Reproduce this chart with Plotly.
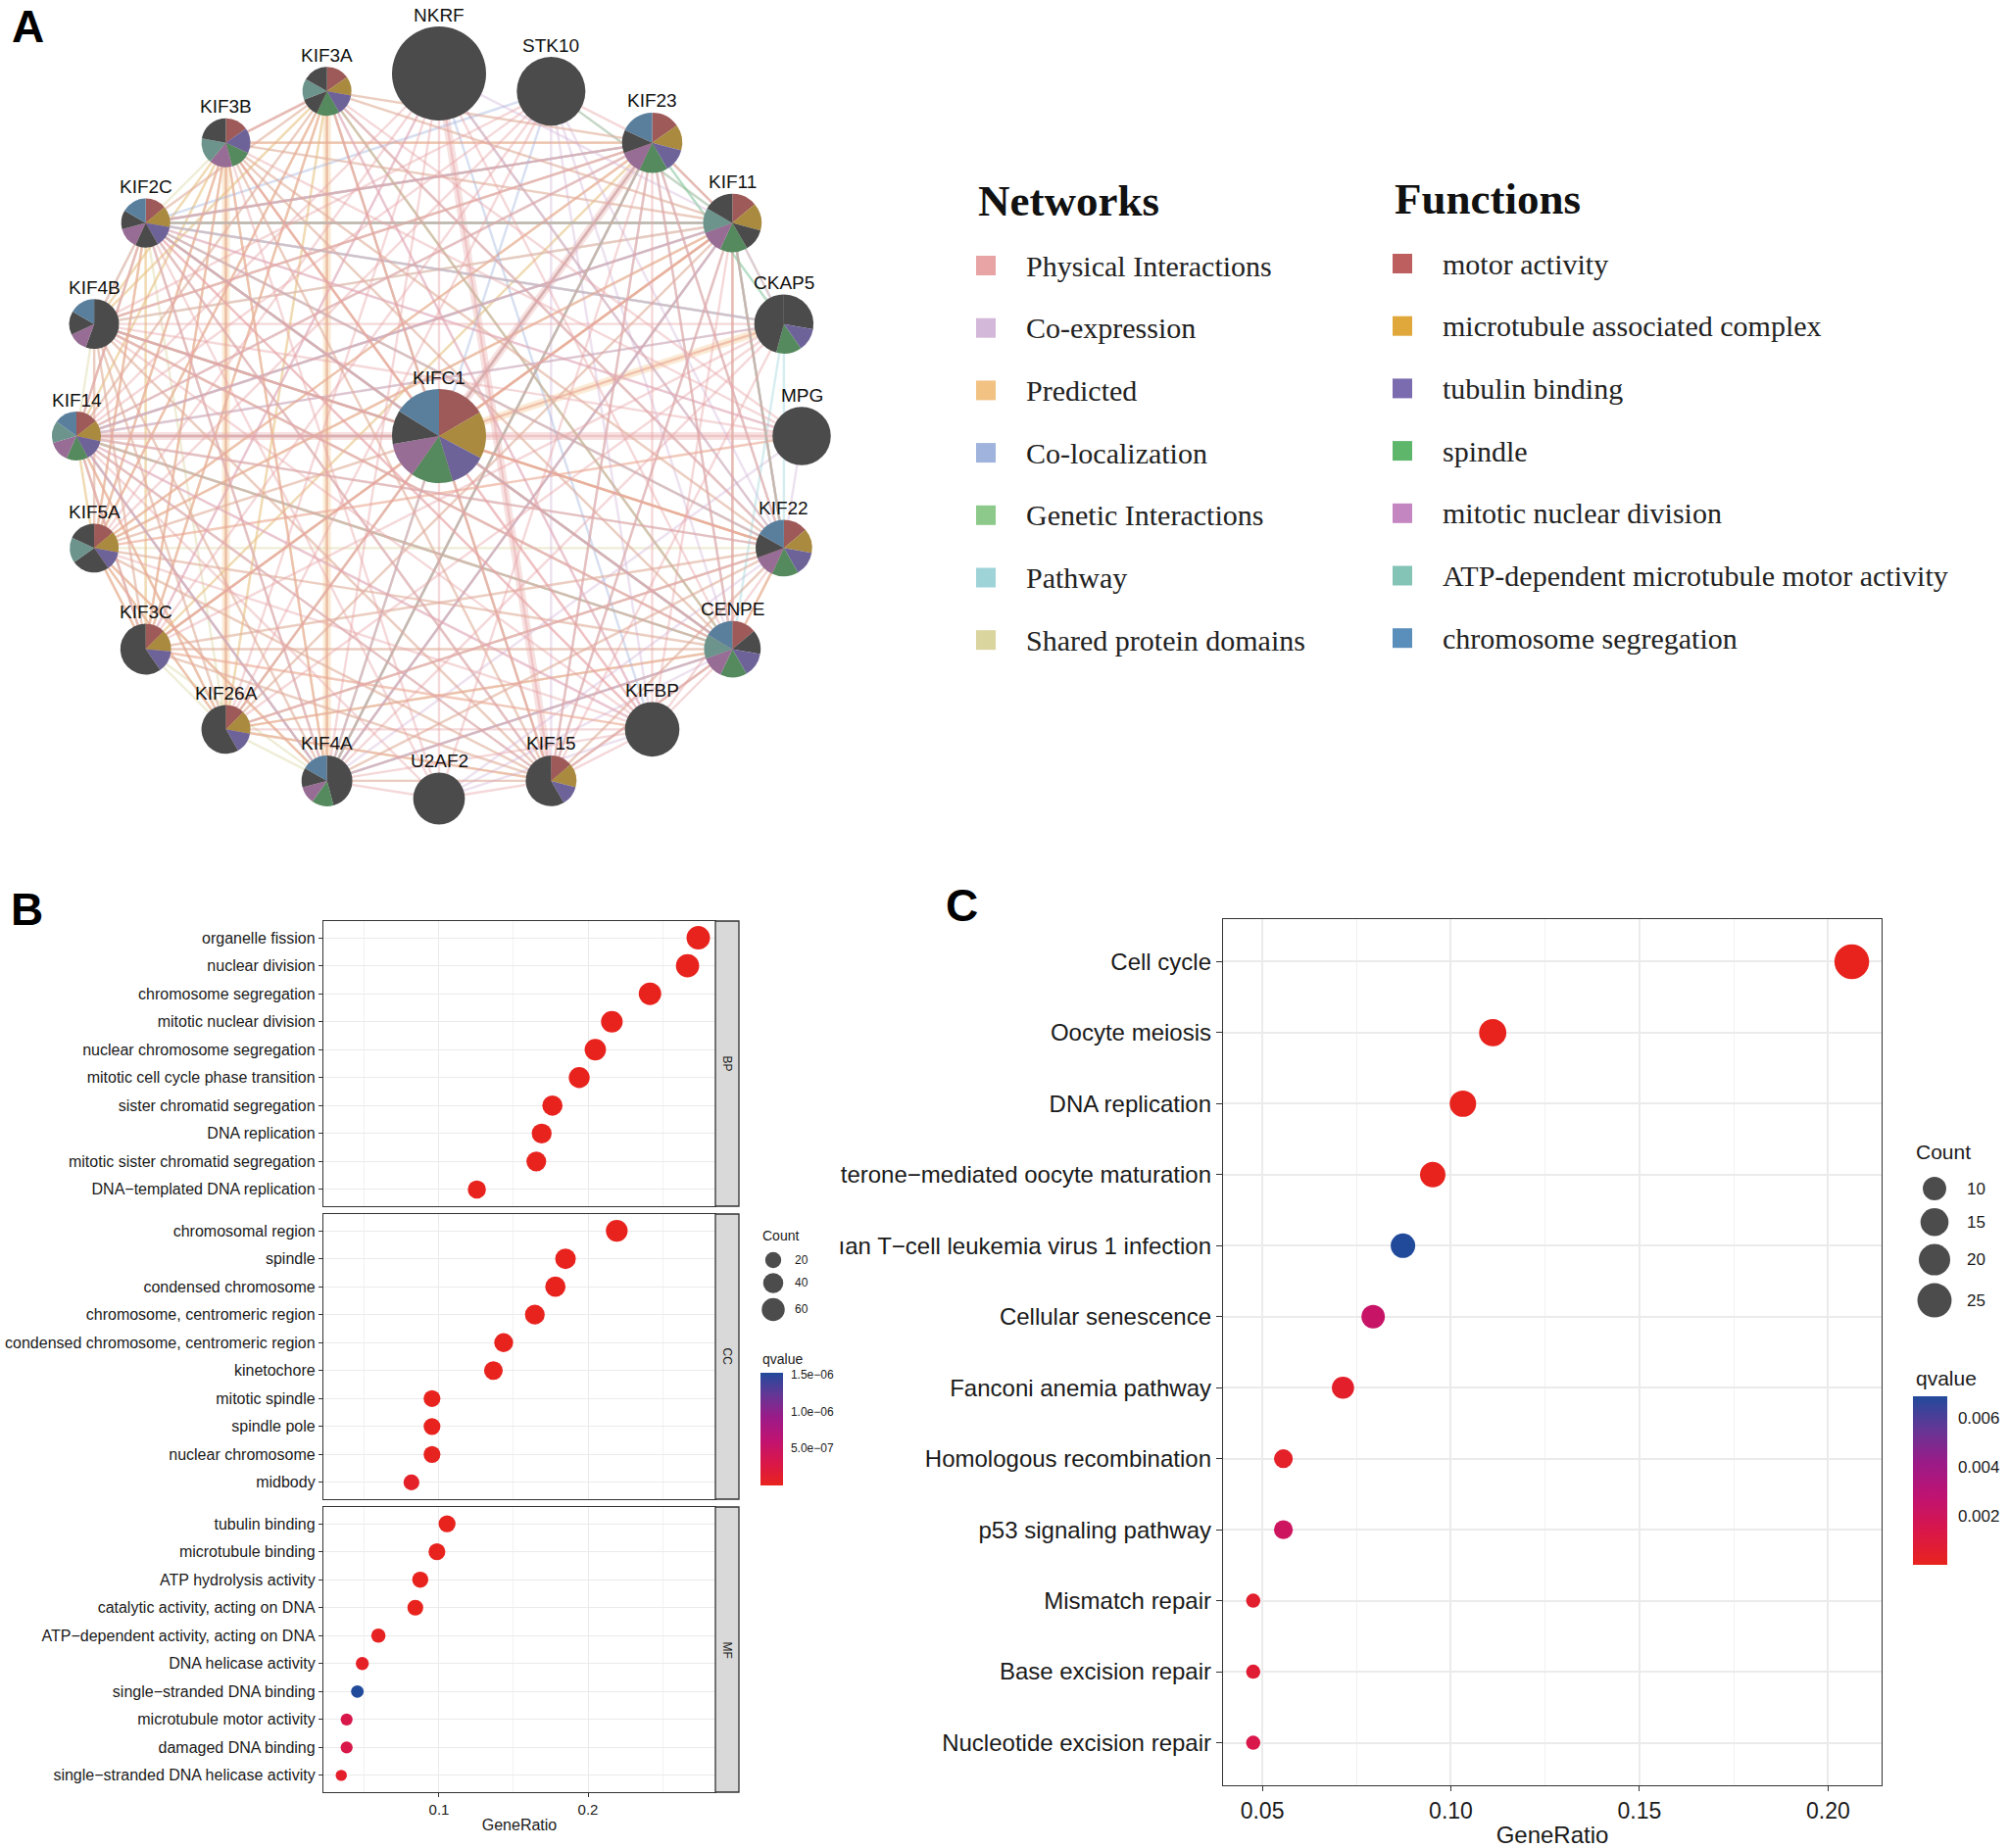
import math
import plotly.graph_objects as go

# ======================= DATA =======================
# ---- Panel A : GeneMANIA network ----
HUB_GENE = "KIFC1"
RING_GENES = ["NKRF", "STK10", "KIF23", "KIF11", "CKAP5", "MPG", "KIF22", "CENPE", "KIFBP", "KIF15",
              "U2AF2", "KIF4A", "KIF26A", "KIF3C", "KIF5A", "KIF14", "KIF4B", "KIF2C", "KIF3B", "KIF3A"]
NODE_WEIGHT = {"KIFC1": 1.00, "NKRF": 1.00, "STK10": 0.73, "KIF23": 0.64, "KIF11": 0.62, "CKAP5": 0.63,
               "MPG": 0.62, "KIF22": 0.60, "CENPE": 0.60, "KIFBP": 0.58, "KIF15": 0.54, "U2AF2": 0.55,
               "KIF4A": 0.54, "KIF26A": 0.52, "KIF3C": 0.54, "KIF5A": 0.52, "KIF14": 0.52, "KIF4B": 0.53,
               "KIF2C": 0.52, "KIF3B": 0.52, "KIF3A": 0.52}

NETWORK_TYPES = ["Physical Interactions", "Co-expression", "Predicted", "Co-localization",
                 "Genetic Interactions", "Pathway", "Shared protein domains"]
FUNCTIONS = ["motor activity", "microtubule associated complex", "tubulin binding", "spindle",
             "mitotic nuclear division", "ATP-dependent microtubule motor activity", "chromosome segregation"]
FUNC_CODES = ["MOT", "MTC", "TUB", "SPI", "MIT", "ATP", "CHR"]

# pie slices clockwise from 12 o'clock: (function code, angular share); "-" = no annotated function
NODE_FUNCTIONS = {
    "KIFC1": [("MOT", 60), ("MTC", 58), ("TUB", 45), ("SPI", 52), ("MIT", 45), ("-", 42), ("CHR", 58)],
    "KIF23": [("MOT", 55), ("MTC", 50), ("TUB", 45), ("SPI", 55), ("MIT", 45), ("-", 45), ("CHR", 65)],
    "KIF11": [("MOT", 50), ("MTC", 55), ("-", 45), ("SPI", 55), ("MIT", 45), ("ATP", 50), ("-", 60)],
    "CKAP5": [("-", 100), ("TUB", 45), ("SPI", 50), ("-", 165)],
    "KIF22": [("MOT", 50), ("MTC", 50), ("TUB", 50), ("SPI", 55), ("MIT", 45), ("-", 50), ("CHR", 60)],
    "CENPE": [("MOT", 50), ("-", 50), ("TUB", 50), ("SPI", 55), ("MIT", 45), ("ATP", 50), ("CHR", 60)],
    "KIF15": [("MOT", 50), ("MTC", 55), ("TUB", 45), ("-", 210)],
    "KIF4A": [("-", 165), ("SPI", 50), ("MIT", 40), ("-", 45), ("CHR", 60)],
    "KIF26A": [("MOT", 45), ("MTC", 55), ("TUB", 50), ("-", 210)],
    "KIF3C": [("MOT", 45), ("MTC", 50), ("TUB", 50), ("-", 215)],
    "KIF5A": [("MOT", 50), ("MTC", 50), ("TUB", 45), ("-", 90), ("ATP", 60), ("-", 65)],
    "KIF14": [("MOT", 52), ("MTC", 50), ("TUB", 50), ("SPI", 52), ("MIT", 50), ("ATP", 52), ("CHR", 54)],
    "KIF4B": [("-", 200), ("MIT", 45), ("-", 55), ("CHR", 60)],
    "KIF2C": [("MOT", 50), ("MTC", 50), ("TUB", 50), ("-", 55), ("MIT", 50), ("-", 45), ("CHR", 60)],
    "KIF3B": [("MOT", 55), ("TUB", 60), ("SPI", 50), ("MIT", 55), ("ATP", 60), ("-", 80)],
    "KIF3A": [("MOT", 55), ("MTC", 45), ("TUB", 50), ("SPI", 55), ("-", 45), ("ATP", 50), ("-", 60)],
}

EDGES = {
    "Shared protein domains": {
        "KIFC1": "KIF3A KIF3B KIF2C KIF4B KIF14 KIF5A KIF3C KIF26A KIF4A KIF15 CENPE KIF22 KIF11 KIF23",
        "KIF3A": "KIF3B KIF2C KIF4B KIF14 KIF5A KIF3C KIF26A KIF4A KIF15 CENPE KIF22 KIF11 KIF23",
        "KIF3B": "KIF2C KIF4B KIF14 KIF5A KIF3C KIF26A KIF4A KIF15 CENPE KIF22 KIF11 KIF23",
        "KIF2C": "KIF4B KIF14 KIF5A KIF3C KIF26A KIF4A KIF15 CENPE KIF22 KIF11 KIF23",
        "KIF4B": "KIF14 KIF5A KIF3C KIF26A KIF4A KIF15 CENPE KIF22 KIF11 KIF23",
        "KIF14": "KIF5A KIF3C KIF26A KIF4A KIF15 CENPE KIF22 KIF11 KIF23",
        "KIF5A": "KIF3C KIF26A KIF4A KIF15 CENPE KIF22 KIF11 KIF23",
        "KIF3C": "KIF26A KIF4A KIF15 CENPE KIF22 KIF11 KIF23",
        "KIF26A": "KIF4A KIF15 CENPE KIF22 KIF11 KIF23",
        "KIF4A": "KIF15 CENPE KIF22 KIF11 KIF23",
        "KIF15": "CENPE KIF22 KIF11 KIF23",
        "CENPE": "KIF22 KIF11 KIF23",
        "KIF22": "KIF11 KIF23",
        "KIF11": "KIF23",
    },
    "Predicted": {
        "KIF3A": "KIF3B KIF3C KIF5A KIF26A KIF4B KIF4A",
        "KIF3B": "KIF3C KIF5A KIF26A KIF4B KIF4A KIF14",
        "KIFC1": "CKAP5 KIF22 KIF11 KIF3B",
        "KIF2C": "KIF4B KIF14 KIF5A KIF3C",
        "KIF14": "KIF5A KIF3C KIF26A",
        "KIF5A": "KIF3C KIF26A KIF4A KIF23 KIF11 MPG",
        "CENPE": "KIF15 KIF22 KIF11",
        "KIF23": "KIF11 KIF3B KIF2C",
        "KIF4B": "KIF22 CENPE KIF11 KIF23",
        "KIF26A": "KIF22 CENPE KIF15",
        "KIF3C": "KIF11 KIF23 KIFBP",
    },
    "Co-expression": {
        "STK10": "KIF22 CENPE KIF11 KIF15 KIFBP",
        "KIF23": "KIF11 CENPE KIF22 KIF2C KIF14 KIF15 KIF4A KIFC1",
        "KIF11": "CENPE KIF2C KIF15 KIF4A KIF14 KIF22",
        "CENPE": "KIF2C KIF14 KIF15 KIF4A",
        "KIF2C": "KIF14 KIF4A KIF15 KIF4B",
        "MPG": "KIF22 KIF2C KIF4A",
        "U2AF2": "KIF22 CENPE KIFBP",
        "KIF3A": "KIF3B KIFBP",
        "KIF14": "KIF4A KIF15 KIF22 KIFBP KIF3C",
        "KIF4B": "KIF23 KIF11 CENPE",
        "KIF22": "KIF3A KIF26A",
        "NKRF": "KIF11 KIF3C",
    },
    "Co-localization": {
        "KIF2C": "KIF11 KIF23 KIF22 CENPE",
        "KIF11": "KIF14 KIF4A KIF22",
        "KIF4A": "KIF14 CENPE KIF23",
        "STK10": "KIF2C KIF4A",
        "NKRF": "KIF22 KIFBP",
        "CKAP5": "KIF14 KIF2C",
        "KIFC1": "KIF4B KIF14",
    },
    "Pathway": {
        "CKAP5": "KIF2C KIF11 CENPE KIF22 KIF23",
        "KIF2C": "KIF11 CENPE",
        "KIFC1": "KIF23",
    },
    "Genetic Interactions": {
        "KIF23": "KIF4A CKAP5",
        "KIF11": "KIF22 KIF2C",
        "CENPE": "KIF14 KIF3A",
        "STK10": "KIF11",
    },
    "Physical Interactions": {
        "KIFC1": "KIF23 KIF11 KIF2C KIF14 KIF4A KIF15 CENPE KIF22 KIF3A KIF3B KIF5A KIFBP NKRF U2AF2 CKAP5 KIF4B KIF26A KIF3C",
        "KIF23": "KIF4A KIF14 KIF11 KIF2C KIF22 CENPE KIF15 KIF3A KIF3B STK10 KIFBP KIF4B KIF5A KIF26A",
        "KIF11": "KIF15 KIF4A KIF2C KIF14 CENPE KIF22 CKAP5 KIF3B KIF3A KIF5A KIF26A KIF3C KIFBP",
        "KIF2C": "CENPE KIF22 KIF4A KIF15 KIF14 CKAP5 KIF3A KIF5A MPG KIFBP",
        "KIF14": "KIF4A CENPE KIF22 KIF15 MPG KIF3C KIF26A KIFBP",
        "KIF3A": "KIF3B KIF3C KIF4A KIF15 KIF5A KIFBP CENPE KIF22 KIF14",
        "KIF3B": "KIF3C KIF4A KIF5A KIF26A KIF22 KIFBP CENPE KIF15",
        "KIF4A": "CENPE KIF22 KIF15 KIFBP U2AF2 KIF4B KIF5A",
        "KIF15": "CENPE KIF22 U2AF2 KIFBP KIF26A KIF3C KIF5A KIF4B",
        "CENPE": "KIF22 KIFBP KIF3C KIF26A KIF5A KIF4B",
        "KIFBP": "KIF22 KIF26A KIF3C KIF5A KIF4B KIF2C",
        "NKRF": "KIF4A KIF15 KIF26A KIF3C KIF5A KIF22 CENPE KIF14",
        "KIF5A": "KIF3C KIF26A KIF4B",
        "KIF4B": "KIF22 KIF26A KIF3C",
        "KIF22": "KIF26A KIF3C",
        "STK10": "KIF4B KIF14 KIF5A KIF3C KIF26A",
        "U2AF2": "KIF3B KIF2C KIF14 KIF23",
        "MPG": "KIF3A KIF3B KIF4B KIF5A",
        "CKAP5": "KIF14 KIF4B KIF3C KIF26A KIF4A KIF15",
    },
}
STRONG_EDGES = {
    "Predicted": {"KIFC1": "CKAP5", "KIF3B": "KIF26A", "KIF3A": "KIF4A"},
    "Physical Interactions": {"KIF14": "MPG", "NKRF": "KIF15", "KIFC1": "KIF23"},
}

# ---- Panel B : GO enrichment ----
BP_TERMS = ["organelle fission", "nuclear division", "chromosome segregation", "mitotic nuclear division",
            "nuclear chromosome segregation", "mitotic cell cycle phase transition", "sister chromatid segregation",
            "DNA replication", "mitotic sister chromatid segregation", "DNA\u2212templated DNA replication"]
BP_RATIO = [0.274, 0.2668, 0.2416, 0.2160, 0.2049, 0.1941, 0.1761, 0.1689, 0.1653, 0.1254]
BP_COUNT = [64, 62, 56, 50, 48, 45, 41, 39, 38, 29]
BP_Q = [2.1e-30, 5.3e-30, 1.2e-27, 3.5e-24, 8.1e-23, 4.4e-19, 2.7e-20, 1.9e-19, 6.3e-18, 2.2e-16]

CC_TERMS = ["chromosomal region", "spindle", "condensed chromosome", "chromosome, centromeric region",
            "condensed chromosome, centromeric region", "kinetochore", "mitotic spindle", "spindle pole",
            "nuclear chromosome", "midbody"]
CC_RATIO = [0.2193, 0.1849, 0.1781, 0.1643, 0.1434, 0.1365, 0.0953, 0.0953, 0.0953, 0.0815]
CC_COUNT = [51, 43, 41, 38, 33, 32, 23, 23, 23, 19]
CC_Q = [1.1e-23, 4.6e-20, 7.7e-22, 3.9e-19, 1.8e-17, 6.0e-16, 2.4e-09, 5.8e-09, 1.1e-08, 7.3e-08]

MF_TERMS = ["tubulin binding", "microtubule binding", "ATP hydrolysis activity", "catalytic activity, acting on DNA",
            "ATP\u2212dependent activity, acting on DNA", "DNA helicase activity", "single\u2212stranded DNA binding",
            "microtubule motor activity", "damaged DNA binding", "single\u2212stranded DNA helicase activity"]
MF_RATIO = [0.1054, 0.0986, 0.0874, 0.0841, 0.0593, 0.0485, 0.0452, 0.0380, 0.0380, 0.0344]
MF_COUNT = [24, 23, 20, 19, 14, 11, 10, 9, 9, 8]
MF_Q = [8.9e-12, 3.1e-11, 1.5e-09, 4.8e-10, 2.6e-08, 6.4e-08, 1.52e-06, 3.2e-07, 3.0e-07, 9.0e-08]

B_SIZE_LEGEND = [20, 40, 60]
B_Q_TICKS = [5e-07, 1e-06, 1.5e-06]
B_Q_TICKTEXT = ["5.0e\u221207", "1.0e\u221206", "1.5e\u221206"]

# ---- Panel C : KEGG enrichment ----
KEGG_TERMS = ["Cell cycle", "Oocyte meiosis", "DNA replication", "Progesterone\u2212mediated oocyte maturation",
              "Human T\u2212cell leukemia virus 1 infection", "Cellular senescence", "Fanconi anemia pathway",
              "Homologous recombination", "p53 signaling pathway", "Mismatch repair", "Base excision repair",
              "Nucleotide excision repair"]
# tick labels as printed: the two longest names are cut off at the panel's left edge in the figure
KEGG_TICK_TEXT = ["Cell cycle", "Oocyte meiosis", "DNA replication", "terone\u2212mediated oocyte maturation",
                  "\u0131an T\u2212cell leukemia virus 1 infection", "Cellular senescence", "Fanconi anemia pathway",
                  "Homologous recombination", "p53 signaling pathway", "Mismatch repair", "Base excision repair",
                  "Nucleotide excision repair"]
KEGG_RATIO = [0.2063, 0.1111, 0.1032, 0.0952, 0.0873, 0.0794, 0.0714, 0.0556, 0.0556, 0.0476, 0.0476, 0.0476]
KEGG_COUNT = [26, 14, 13, 12, 11, 10, 9, 7, 7, 6, 6, 6]
KEGG_Q = [1.4e-17, 9.2e-08, 3.1e-08, 1.2e-06, 6.9e-03, 2.4e-03, 4.2e-04, 3.5e-04, 2.1e-03, 5.1e-04, 7.5e-04, 1.4e-03]
C_SIZE_LEGEND = [10, 15, 20, 25]
C_Q_TICKS = [0.002, 0.004, 0.006]

# ======================= STYLE =======================
W, H = 2050, 1886
SANS = "Liberation Sans, Arial, Helvetica, sans-serif"
SERIF = "Liberation Serif, Times New Roman, serif"
INK = "#1A1A1A"
FRAME = "#333333"
GRID = "#EBEBEB"

NET_COLOR = {"Physical Interactions": (232, 163, 165), "Co-expression": (211, 184, 217),
             "Predicted": (242, 194, 131), "Co-localization": (160, 179, 220),
             "Genetic Interactions": (141, 201, 138), "Pathway": (158, 211, 216),
             "Shared protein domains": (218, 212, 158)}
FUNC_COLOR = {"MOT": "#BD5F5E", "MTC": "#E0A83A", "TUB": "#7B6BAF", "SPI": "#5EB66B",
              "MIT": "#C386C0", "ATP": "#83C4B6", "CHR": "#5A8EBB"}
PIE_COLOR = {"MOT": "#9E5A58", "MTC": "#A98A3F", "TUB": "#6E6399", "SPI": "#55895E",
             "MIT": "#976D95", "ATP": "#6C948C", "CHR": "#5A7F9C", "-": "#4B4B4B"}
QSCALE = [[0.0, "#E8231E"], [0.2, "#D91749"], [0.4, "#C01371"], [0.6, "#9C1A87"],
          [0.8, "#663695"], [1.0, "#214A9B"]]


def fx(px):
    return px / W


def fy(py):
    return 1 - py / H


def size_b(c):
    return 9.5 + 14.5 * math.sqrt(max(c - 7, 0) / 57.0)


def size_c(c):
    return 14.5 + 21.0 * math.sqrt(max(c - 6, 0) / 20.0)


fig = go.Figure()
annotations = []
shapes = []

# ---------------- Panel A network (pixel overlay axis x/y) ----------------
CX, CY, RING_R, BASE_R = 448, 445, 370, 48
pos = {HUB_GENE: (CX, CY)}
for k, g in enumerate(RING_GENES):
    a = math.radians(90 - 360.0 * k / len(RING_GENES))
    pos[g] = (CX + RING_R * math.cos(a), CY - RING_R * math.sin(a))

EDGE_DRAW_ORDER = ["Shared protein domains", "Predicted", "Co-expression", "Co-localization",
                   "Pathway", "Genetic Interactions", "Physical Interactions"]


def add_edges(edge_dict, width, alpha):
    for t in EDGE_DRAW_ORDER:
        if t not in edge_dict:
            continue
        r, g_, b = NET_COLOR[t]
        for src, tgts in edge_dict[t].items():
            xs, ys = [], []
            for dst in tgts.split():
                (x0, y0), (x1, y1) = pos[src], pos[dst]
                xs += [x0, x1, None]
                ys += [y0, y1, None]
            fig.add_trace(go.Scatter(x=xs, y=ys, mode="lines", xaxis="x", yaxis="y",
                                     line=dict(color=f"rgba({r},{g_},{b},{alpha})", width=width),
                                     hoverinfo="skip", showlegend=False))


add_edges(STRONG_EDGES, 8, 0.33)
add_edges(EDGES, 2.4, 0.42)

for g in [HUB_GENE] + RING_GENES:
    x, y = pos[g]
    r = BASE_R * NODE_WEIGHT[g]
    slices = NODE_FUNCTIONS.get(g, [("-", 1)])
    fig.add_trace(go.Pie(
        values=[w for _, w in slices],
        labels=[f"{g}-{i}" for i in range(len(slices))],
        marker=dict(colors=[PIE_COLOR[c] for c, _ in slices], line=dict(width=0)),
        domain=dict(x=[fx(x - r), fx(x + r)], y=[fy(y + r), fy(y - r)]),
        sort=False, direction="clockwise", rotation=0, textinfo="none",
        hoverinfo="skip", showlegend=False))
    annotations.append(dict(x=x, y=y - r - 12, xref="x", yref="y", text=g, showarrow=False,
                            xanchor="center", yanchor="middle",
                            font=dict(family=SANS, size=19, color="#111111")))

# Panel A legends
NET_SQ_X, NET_TX_X, FUN_SQ_X, FUN_TX_X = 1006, 1045, 1431, 1470
NET_Y0, FUN_Y0, ROW_STEP = 271, 269, 63.7
annotations.append(dict(x=996, y=205, xref="x", yref="y", text="<b>Networks</b>", showarrow=False,
                        xanchor="left", yanchor="middle", font=dict(family=SERIF, size=45, color="#111111")))
annotations.append(dict(x=1421, y=203, xref="x", yref="y", text="<b>Functions</b>", showarrow=False,
                        xanchor="left", yanchor="middle", font=dict(family=SERIF, size=45, color="#111111")))
net_y = [NET_Y0 + i * ROW_STEP for i in range(len(NETWORK_TYPES))]
fun_y = [FUN_Y0 + i * ROW_STEP for i in range(len(FUNCTIONS))]
fig.add_trace(go.Scatter(x=[NET_SQ_X] * len(NETWORK_TYPES), y=net_y, mode="markers", xaxis="x", yaxis="y",
                         marker=dict(symbol="square", size=20,
                                     color=["rgb(%d,%d,%d)" % NET_COLOR[t] for t in NETWORK_TYPES]),
                         hoverinfo="skip", showlegend=False))
fig.add_trace(go.Scatter(x=[FUN_SQ_X] * len(FUNCTIONS), y=fun_y, mode="markers", xaxis="x", yaxis="y",
                         marker=dict(symbol="square", size=20, color=[FUNC_COLOR[c] for c in FUNC_CODES]),
                         hoverinfo="skip", showlegend=False))
for t, yy in zip(NETWORK_TYPES, net_y):
    annotations.append(dict(x=NET_TX_X, y=yy, xref="x", yref="y", text=t, showarrow=False,
                            xanchor="left", yanchor="middle", font=dict(family=SERIF, size=30, color="#222222")))
for t, yy in zip(FUNCTIONS, fun_y):
    annotations.append(dict(x=FUN_TX_X, y=yy, xref="x", yref="y", text=t, showarrow=False,
                            xanchor="left", yanchor="middle", font=dict(family=SERIF, size=30, color="#222222")))

# ---------------- Panel B (facets) ----------------
B_X0, B_X1 = 330, 730
B_PANELS = [("BP", BP_TERMS, BP_RATIO, BP_COUNT, BP_Q, 940, 1231),
            ("CC", CC_TERMS, CC_RATIO, CC_COUNT, CC_Q, 1239, 1530),
            ("MF", MF_TERMS, MF_RATIO, MF_COUNT, MF_Q, 1538, 1829)]
B_XRANGE = [0.0224, 0.2855]
layout_axes = {}
for i, (lab, terms, ratio, count, q, y0, y1) in enumerate(B_PANELS):
    ax = i + 2
    last = (i == len(B_PANELS) - 1)
    fig.add_trace(go.Scatter(x=ratio, y=terms, mode="markers", xaxis=f"x{ax}", yaxis=f"y{ax}",
                             marker=dict(size=[size_b(c) for c in count], color=q, coloraxis="coloraxis",
                                         line=dict(width=0), opacity=1),
                             hoverinfo="skip", showlegend=False))
    layout_axes[f"xaxis{ax}"] = dict(
        domain=[fx(B_X0), fx(B_X1)], anchor=f"y{ax}", range=B_XRANGE, tick0=0, dtick=0.1,
        showgrid=True, gridcolor=GRID, gridwidth=1.3, zeroline=False,
        minor=dict(dtick=0.05, tick0=0, showgrid=True, gridcolor="#F1F1F1", gridwidth=0.7),
        showline=True, linecolor=FRAME, linewidth=1.3, mirror=True,
        showticklabels=last, ticks="outside" if last else "", ticklen=4, tickcolor=FRAME, tickwidth=1,
        tickfont=dict(family=SANS, size=15, color=INK),
        title=dict(text="GeneRatio" if last else "", font=dict(family=SANS, size=16, color=INK), standoff=2),
        fixedrange=True)
    layout_axes[f"yaxis{ax}"] = dict(
        domain=[fy(y1), fy(y0)], anchor=f"x{ax}", type="category", categoryorder="array",
        categoryarray=terms, range=[len(terms) - 0.4, -0.6],
        showgrid=True, gridcolor=GRID, gridwidth=1.3, zeroline=False,
        showline=True, linecolor=FRAME, linewidth=1.3, mirror=True,
        ticks="outside", ticklen=4, tickcolor=FRAME, tickwidth=1,
        tickfont=dict(family=SANS, size=16, color=INK), fixedrange=True)
    # facet strip
    shapes.append(dict(type="rect", xref="paper", yref="paper", x0=fx(730), x1=fx(754), y0=fy(y1), y1=fy(y0),
                       fillcolor="#D9D9D9", line=dict(color=FRAME, width=1.3), layer="above"))
    annotations.append(dict(x=742, y=(y0 + y1) / 2, xref="x", yref="y", text=lab, textangle=90, showarrow=False,
                            xanchor="center", yanchor="middle", font=dict(family=SANS, size=12, color=INK)))

# Panel B legends
annotations.append(dict(x=776, y=1261, xref="x", yref="y", text="Count", showarrow=False, xanchor="left",
                        yanchor="middle", font=dict(family=SANS, size=14, color=INK)))
b_ly, yy = [], 1286
for j, c in enumerate(B_SIZE_LEGEND):
    if j > 0:
        yy += (size_b(B_SIZE_LEGEND[j - 1]) + size_b(c)) / 2 + 5
    b_ly.append(yy)
fig.add_trace(go.Scatter(x=[789] * len(B_SIZE_LEGEND), y=b_ly, mode="markers", xaxis="x", yaxis="y",
                         marker=dict(size=[size_b(c) for c in B_SIZE_LEGEND], color="black", line=dict(width=0)),
                         hoverinfo="skip", showlegend=False))
for c, yv in zip(B_SIZE_LEGEND, b_ly):
    annotations.append(dict(x=809, y=yv, xref="x", yref="y", text=str(c), showarrow=False, xanchor="left",
                            yanchor="middle", font=dict(family=SANS, size=12, color=INK)))
annotations.append(dict(x=776, y=1387, xref="x", yref="y", text="qvalue", showarrow=False, xanchor="left",
                        yanchor="middle", font=dict(family=SANS, size=14, color=INK)))

# ---------------- Panel C ----------------
C_X0, C_X1, C_Y0, C_Y1 = 1248, 1920, 938, 1822
fig.add_trace(go.Scatter(x=KEGG_RATIO, y=KEGG_TERMS, mode="markers", xaxis="x5", yaxis="y5",
                         marker=dict(size=[size_c(c) for c in KEGG_COUNT], color=KEGG_Q, coloraxis="coloraxis2",
                                     line=dict(width=0), opacity=1),
                         hoverinfo="skip", showlegend=False))
layout_axes["xaxis5"] = dict(
    domain=[fx(C_X0), fx(C_X1)], anchor="y5", range=[0.0396, 0.2142], tick0=0, dtick=0.05, tickformat=".2f",
    showgrid=True, gridcolor=GRID, gridwidth=1.5, zeroline=False,
    minor=dict(dtick=0.025, tick0=0, showgrid=True, gridcolor="#F1F1F1", gridwidth=0.8),
    showline=True, linecolor=FRAME, linewidth=1.4, mirror=True,
    ticks="outside", ticklen=5, tickcolor=FRAME, tickwidth=1.2,
    tickfont=dict(family=SANS, size=23, color=INK),
    title=dict(text="GeneRatio", font=dict(family=SANS, size=24, color=INK), standoff=4), fixedrange=True)
layout_axes["yaxis5"] = dict(
    domain=[fy(C_Y1), fy(C_Y0)], anchor="x5", type="category", categoryorder="array",
    categoryarray=KEGG_TERMS, range=[len(KEGG_TERMS) - 0.4, -0.6],
    tickmode="array", tickvals=KEGG_TERMS, ticktext=KEGG_TICK_TEXT,
    showgrid=True, gridcolor=GRID, gridwidth=1.5, zeroline=False,
    showline=True, linecolor=FRAME, linewidth=1.4, mirror=True,
    ticks="outside", ticklen=6, tickcolor=FRAME, tickwidth=1.2,
    tickfont=dict(family=SANS, size=24, color=INK), fixedrange=True)

annotations.append(dict(x=1953, y=1175, xref="x", yref="y", text="Count", showarrow=False, xanchor="left",
                        yanchor="middle", font=dict(family=SANS, size=21, color=INK)))
c_ly, yy = [], 1213
for j, c in enumerate(C_SIZE_LEGEND):
    if j > 0:
        yy += (size_c(C_SIZE_LEGEND[j - 1]) + size_c(c)) / 2 + 8
    c_ly.append(yy)
fig.add_trace(go.Scatter(x=[1974] * len(C_SIZE_LEGEND), y=c_ly, mode="markers", xaxis="x", yaxis="y",
                         marker=dict(size=[size_c(c) for c in C_SIZE_LEGEND], color="black", line=dict(width=0)),
                         hoverinfo="skip", showlegend=False))
for c, yv in zip(C_SIZE_LEGEND, c_ly):
    annotations.append(dict(x=2005, y=yv, xref="x", yref="y", text=str(c), showarrow=False, xanchor="left",
                            yanchor="middle", font=dict(family=SANS, size=17, color=INK)))
annotations.append(dict(x=1953, y=1406, xref="x", yref="y", text="qvalue", showarrow=False, xanchor="left",
                        yanchor="middle", font=dict(family=SANS, size=21, color=INK)))

# panel letters
for letter, lx, ly in [("A", 28, 27), ("B", 27, 928), ("C", 981, 924)]:
    annotations.append(dict(x=lx, y=ly, xref="x", yref="y", text=f"<b>{letter}</b>", showarrow=False,
                            xanchor="center", yanchor="middle", font=dict(family=SANS, size=46, color="black")))

fig.update_layout(
    width=W, height=H, margin=dict(l=0, r=0, t=0, b=0, pad=0),
    paper_bgcolor="white", plot_bgcolor="white", showlegend=False,
    xaxis=dict(domain=[0, 1], range=[0, W], visible=False, fixedrange=True),
    yaxis=dict(domain=[0, 1], range=[H, 0], visible=False, fixedrange=True),
    coloraxis=dict(colorscale=QSCALE, cmin=0, cmax=1.52e-06,
                   colorbar=dict(x=fx(776), xanchor="left", y=fy(1401), yanchor="top", len=115, lenmode="pixels",
                                 thickness=23, thicknessmode="pixels", xpad=0, ypad=0, outlinewidth=0,
                                 tickmode="array", tickvals=B_Q_TICKS, ticktext=B_Q_TICKTEXT,
                                 ticks="outside", ticklen=6, tickcolor="rgba(255,255,255,0)", tickwidth=1,
                                 tickfont=dict(family=SANS, size=12, color=INK))),
    coloraxis2=dict(colorscale=QSCALE, cmin=0, cmax=0.0069,
                    colorbar=dict(x=fx(1952), xanchor="left", y=fy(1425), yanchor="top", len=172, lenmode="pixels",
                                  thickness=35, thicknessmode="pixels", xpad=0, ypad=0, outlinewidth=0,
                                  tickmode="array", tickvals=C_Q_TICKS, ticktext=[f"{v:.3f}" for v in C_Q_TICKS],
                                  ticks="outside", ticklen=8, tickcolor="rgba(255,255,255,0)", tickwidth=1,
                                  tickfont=dict(family=SANS, size=17, color=INK))),
    annotations=annotations, shapes=shapes,
    **layout_axes,
)

fig.write_html("out.html", config={"displayModeBar": False},
               post_script="document.body.style.margin='0';")
